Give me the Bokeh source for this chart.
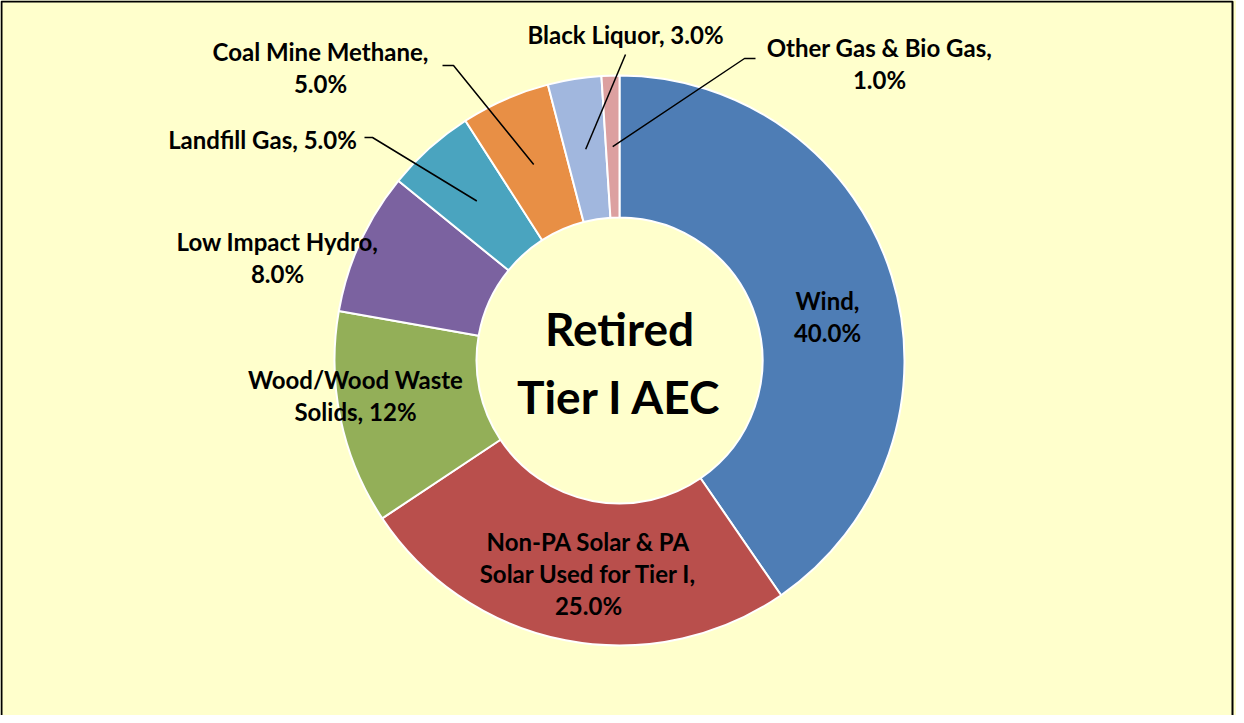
import numpy as np
from bokeh.plotting import figure
from bokeh.models import Range1d, ColumnDataSource
from bokeh.core.properties import value
from bokeh.embed import file_html
from bokeh.resources import INLINE

# ---- data ----
categories = ["Wind", "Non-PA Solar & PA Solar Used for Tier I", "Wood/Wood Waste Solids",
              "Low Impact Hydro", "Landfill Gas", "Coal Mine Methane", "Black Liquor",
              "Other Gas & Bio Gas"]
shares = [40.0, 25.0, 12.0, 8.0, 5.0, 5.0, 3.0, 1.0]
label_lines = [
    ["Wind,", "40.0%"],
    ["Non-PA Solar & PA", "Solar Used for Tier I,", "25.0%"],
    ["Wood/Wood Waste", "Solids, 12%"],
    ["Low Impact Hydro,", "8.0%"],
    ["Landfill Gas, 5.0%"],
    ["Coal Mine Methane,", "5.0%"],
    ["Black Liquor, 3.0%"],
    ["Other Gas & Bio Gas,", "1.0%"],
]
colors = ["#4E7DB5", "#B94F4C", "#93AF58", "#7B62A0", "#4AA4BF", "#E88F45", "#A1B7DE", "#DCA0A0"]

# ---- layout (pixel-like coordinates, y up) ----
W, H = 1236, 715
CX, CY = 619, 355
R_OUT, R_IN = 285, 143
R_MID = (R_OUT + R_IN) / 2
FONT = value("Lato")
# label centre positions (x, y of first line) and line spacing
label_pos = [(827, 415), (588, 174), (355, 336), (277, 474), (262, 576), (320, 664), (625, 681), (879, 668)]
LINE_H = 32
# leader lines: (elbow x, elbow y, end x) or None
leaders = [None, None, None, None, (372, 578, 364), (453, 650, 442), None, (744, 657, 755)]
leader_direct = [None] * 6 + [(625, 661), None]

p = figure(width=W, height=H, x_range=Range1d(0, W), y_range=Range1d(0, H),
           output_backend="svg", toolbar_location=None, min_border=0)
p.axis.visible = False
p.grid.visible = False
p.background_fill_color = "#FFFFCC"
p.border_fill_color = "#FFFFCC"
p.outline_line_color = None

# chart-area border (left, top, right; bottom edge is below the visible page)
p.line(x=[1, 1, W - 4, W - 4], y=[-5, H - 1, H - 1, -5], line_color="black", line_width=2)

total = sum(shares)
cum = np.concatenate([[0], np.cumsum(shares)]) / total * 2 * np.pi
theta0 = cum[:-1]
theta1 = cum[1:]
start = np.pi / 2 - theta0
end = np.pi / 2 - theta1
src = ColumnDataSource(dict(start=start, end=end, color=colors, cat=categories))
p.annular_wedge(x=CX, y=CY, inner_radius=R_IN, outer_radius=R_OUT, start_angle="start",
                end_angle="end", direction="clock", fill_color="color", line_color="white",
                line_width=2, source=src)

# centre text
p.text(x=[CX, CX], y=[CY + 32, CY - 36], text=["Retired", "Tier I AEC"], text_font=FONT,
       text_font_style="bold", text_font_size="46px", text_align="center",
       text_baseline="middle", text_color="black")

# labels
xs, ys, ts = [], [], []
for (lx, ly), lines in zip(label_pos, label_lines):
    for k, t in enumerate(lines):
        xs.append(lx)
        ys.append(ly - k * LINE_H)
        ts.append(t)
p.text(x=xs, y=ys, text=ts, text_font=FONT, text_font_style="bold", text_font_size="24px",
       text_align="center", text_baseline="middle", text_color="black")

# leader lines
mid = (theta0 + theta1) / 2
for i in range(len(shares)):
    px = CX + R_MID * np.sin(mid[i])
    py = CY + R_MID * np.cos(mid[i])
    if leaders[i] is not None:
        ex, ey, tx = leaders[i]
        p.line(x=[px, ex, tx], y=[py, ey, ey], line_color="black", line_width=1.5)
    elif leader_direct[i] is not None:
        ex, ey = leader_direct[i]
        p.line(x=[px, ex], y=[py, ey], line_color="black", line_width=1.5)

open("out.html", "w").write(file_html(p, INLINE))
